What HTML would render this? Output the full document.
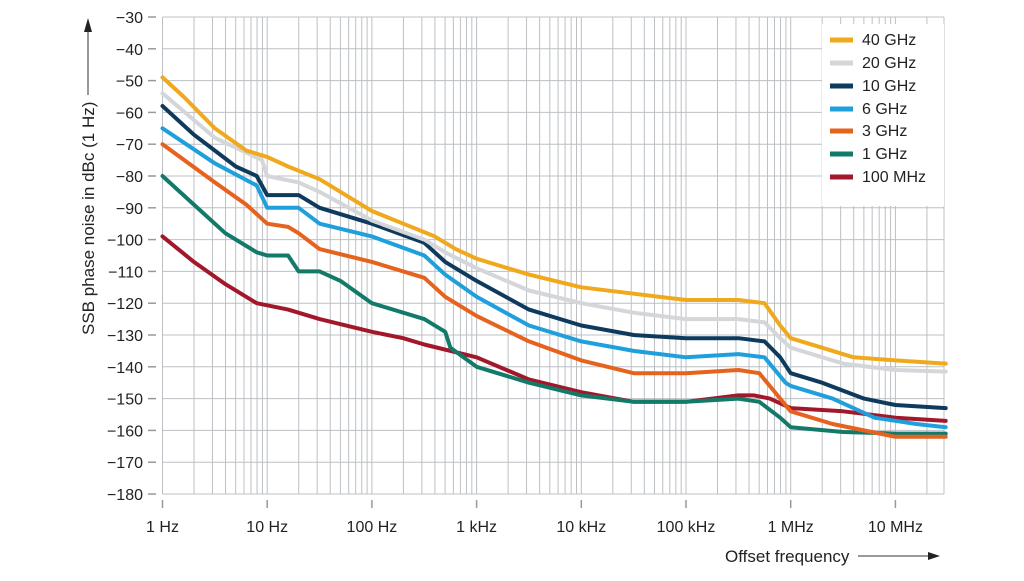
<!DOCTYPE html>
<html><head><meta charset="utf-8"><style>
body{margin:0;background:#fff;}
svg text{font-family:"Liberation Sans Narrow","Liberation Sans",sans-serif;fill:#222;}
</style></head><body>
<svg id="s" width="1024" height="576" xmlns="http://www.w3.org/2000/svg">
<g id="grid"></g>
<g id="curves" fill="none" stroke-width="4" stroke-linejoin="round" stroke-linecap="round"></g>
<rect x="822" y="24" width="122" height="182" fill="#fff"/>
<g font-size="16">
<line x1="830" y1="40" x2="853" y2="40" stroke="#f0a81c" stroke-width="5"/><text x="862" y="45">40 GHz</text>
<line x1="830" y1="63" x2="853" y2="63" stroke="#d4d6d9" stroke-width="5"/><text x="862" y="68">20 GHz</text>
<line x1="830" y1="86" x2="853" y2="86" stroke="#0e3a5e" stroke-width="5"/><text x="862" y="91">10 GHz</text>
<line x1="830" y1="109" x2="853" y2="109" stroke="#1fa0dc" stroke-width="5"/><text x="862" y="114">6 GHz</text>
<line x1="830" y1="131" x2="853" y2="131" stroke="#e5631e" stroke-width="5"/><text x="862" y="136">3 GHz</text>
<line x1="830" y1="154" x2="853" y2="154" stroke="#137a6a" stroke-width="5"/><text x="862" y="159">1 GHz</text>
<line x1="830" y1="177" x2="853" y2="177" stroke="#a2182a" stroke-width="5"/><text x="862" y="182">100 MHz</text>
</g>
<g id="ylab" font-size="16" text-anchor="end"></g>
<g id="xlab" font-size="16" text-anchor="middle"></g>
<text x="725" y="562" font-size="17">Offset frequency</text>
<line x1="858" y1="556" x2="930" y2="556" stroke="#333" stroke-width="1"/>
<polygon points="928,552 940,556 928,560" fill="#222"/>
<text transform="translate(94,335) rotate(-90)" font-size="17">SSB phase noise in dBc (1 Hz)</text>
<line x1="88" y1="30" x2="88" y2="95" stroke="#333" stroke-width="1"/>
<polygon points="84,32 88,18 92,32" fill="#222"/>
</svg>
<script>
const NS="http://www.w3.org/2000/svg";
const L=162.5,D=104.7,T=17,R=944,B=494;
const X=d=>L+d*D, Y=db=>T+(-30-db)*3.18;
function el(p,n,a){const e=document.createElementNS(NS,n);for(const k in a)e.setAttribute(k,a[k]);p.appendChild(e);return e;}
const g=document.getElementById('grid');
for(let dec=0;dec<8;dec++)for(let m=1;m<10;m++){const x=X(dec+Math.log10(m));if(x>R+0.5)break;el(g,'line',{x1:x,y1:T,x2:x,y2:B,stroke:'#bcc0c4','stroke-width':1});}
for(let v=-30;v>=-180;v-=10){el(g,'line',{x1:L,y1:Y(v),x2:R,y2:Y(v),stroke:'#bcc0c4','stroke-width':1});}
el(g,'line',{x1:R,y1:T,x2:R,y2:B,stroke:'#bcc0c4'});
const yl=document.getElementById('ylab');
for(let v=-30;v>=-180;v-=10){const y=Y(v);const t=el(yl,'text',{x:143,y:y+6});t.textContent='\u2212'+(-v);el(yl,'line',{x1:148,y1:y,x2:156,y2:y,stroke:'#999','stroke-width':1.5});}
const xl=document.getElementById('xlab');
['1 Hz','10 Hz','100 Hz','1 kHz','10 kHz','100 kHz','1 MHz','10 MHz'].forEach((s,i)=>{const x=X(i);el(xl,'line',{x1:x,y1:500,x2:x,y2:508,stroke:'#999','stroke-width':1.5});const t=el(xl,'text',{x:x,y:532});t.textContent=s;});
const C=[
['#a2182a',[[0,-99],[0.3,-107],[0.6,-114],[0.9,-120],[1.2,-122],[1.5,-125],[2,-129],[2.3,-131],[2.5,-133],[3,-137],[3.5,-144],[4,-148],[4.5,-151],[5,-151],[5.5,-149],[5.65,-149],[5.8,-150],[6,-153],[6.5,-154],[7,-156],[7.48,-157]]],
['#137a6a',[[0,-80],[0.3,-89],[0.6,-98],[0.9,-104],[1,-105],[1.2,-105],[1.3,-110],[1.5,-110],[1.7,-113],[2,-120],[2.5,-125],[2.7,-129],[2.75,-134],[3,-140],[3.5,-145],[4,-149],[4.5,-151],[5,-151],[5.5,-150],[5.7,-151],[5.9,-156],[6,-159],[6.5,-160.5],[7,-161],[7.48,-161]]],
['#e5631e',[[0,-70],[0.5,-82],[0.8,-89],[1,-95],[1.2,-96],[1.3,-98],[1.5,-103],[2,-107],[2.5,-112],[2.7,-118],[3,-124],[3.5,-132],[4,-138],[4.5,-142],[5,-142],[5.5,-141],[5.7,-142],[5.9,-150],[6,-154],[6.4,-158],[7,-162],[7.48,-162]]],
['#1fa0dc',[[0,-65],[0.5,-76],[0.9,-83],[1,-90],[1.3,-90],[1.5,-95],[2,-99],[2.5,-105],[2.7,-111],[3,-118],[3.5,-127],[4,-132],[4.5,-135],[5,-137],[5.5,-136],[5.75,-137],[5.95,-145],[6,-146],[6.4,-150],[6.8,-156],[7.2,-158],[7.48,-159]]],
['#0e3a5e',[[0,-58],[0.3,-67],[0.7,-77],[0.9,-80],[1,-86],[1.3,-86],[1.5,-90],[2,-95],[2.5,-101],[2.7,-107],[3,-113],[3.5,-122],[4,-127],[4.5,-130],[5,-131],[5.5,-131],[5.75,-132],[5.9,-137],[6,-142],[6.3,-145],[6.7,-150],[7,-152],[7.48,-153]]],
['#d4d6d9',[[0,-54],[0.5,-68],[0.95,-75],[1,-80],[1.3,-82],[1.5,-85],[2,-94],[2.5,-100],[2.7,-104],[3,-109],[3.5,-116],[4,-120],[4.5,-123],[5,-125],[5.5,-125],[5.75,-126],[5.9,-131],[6,-134],[6.5,-139],[7,-141],[7.48,-141.5]]],
['#f0a81c',[[0,-49],[0.2,-55],[0.5,-65],[0.8,-72],[1,-74],[1.2,-77],[1.5,-81],[1.8,-87],[2,-91],[2.3,-95],[2.6,-99],[2.8,-103],[3,-106],[3.5,-111],[4,-115],[4.5,-117],[5,-119],[5.5,-119],[5.75,-120],[5.9,-127],[6,-131],[6.3,-134],[6.6,-137],[7,-138],[7.48,-139]]]
];
const cg=document.getElementById('curves');
C.forEach(([c,p])=>{el(cg,'polyline',{points:p.map(q=>X(q[0]).toFixed(1)+','+Y(q[1]).toFixed(1)).join(' '),stroke:c});});
</script>
</body></html>
